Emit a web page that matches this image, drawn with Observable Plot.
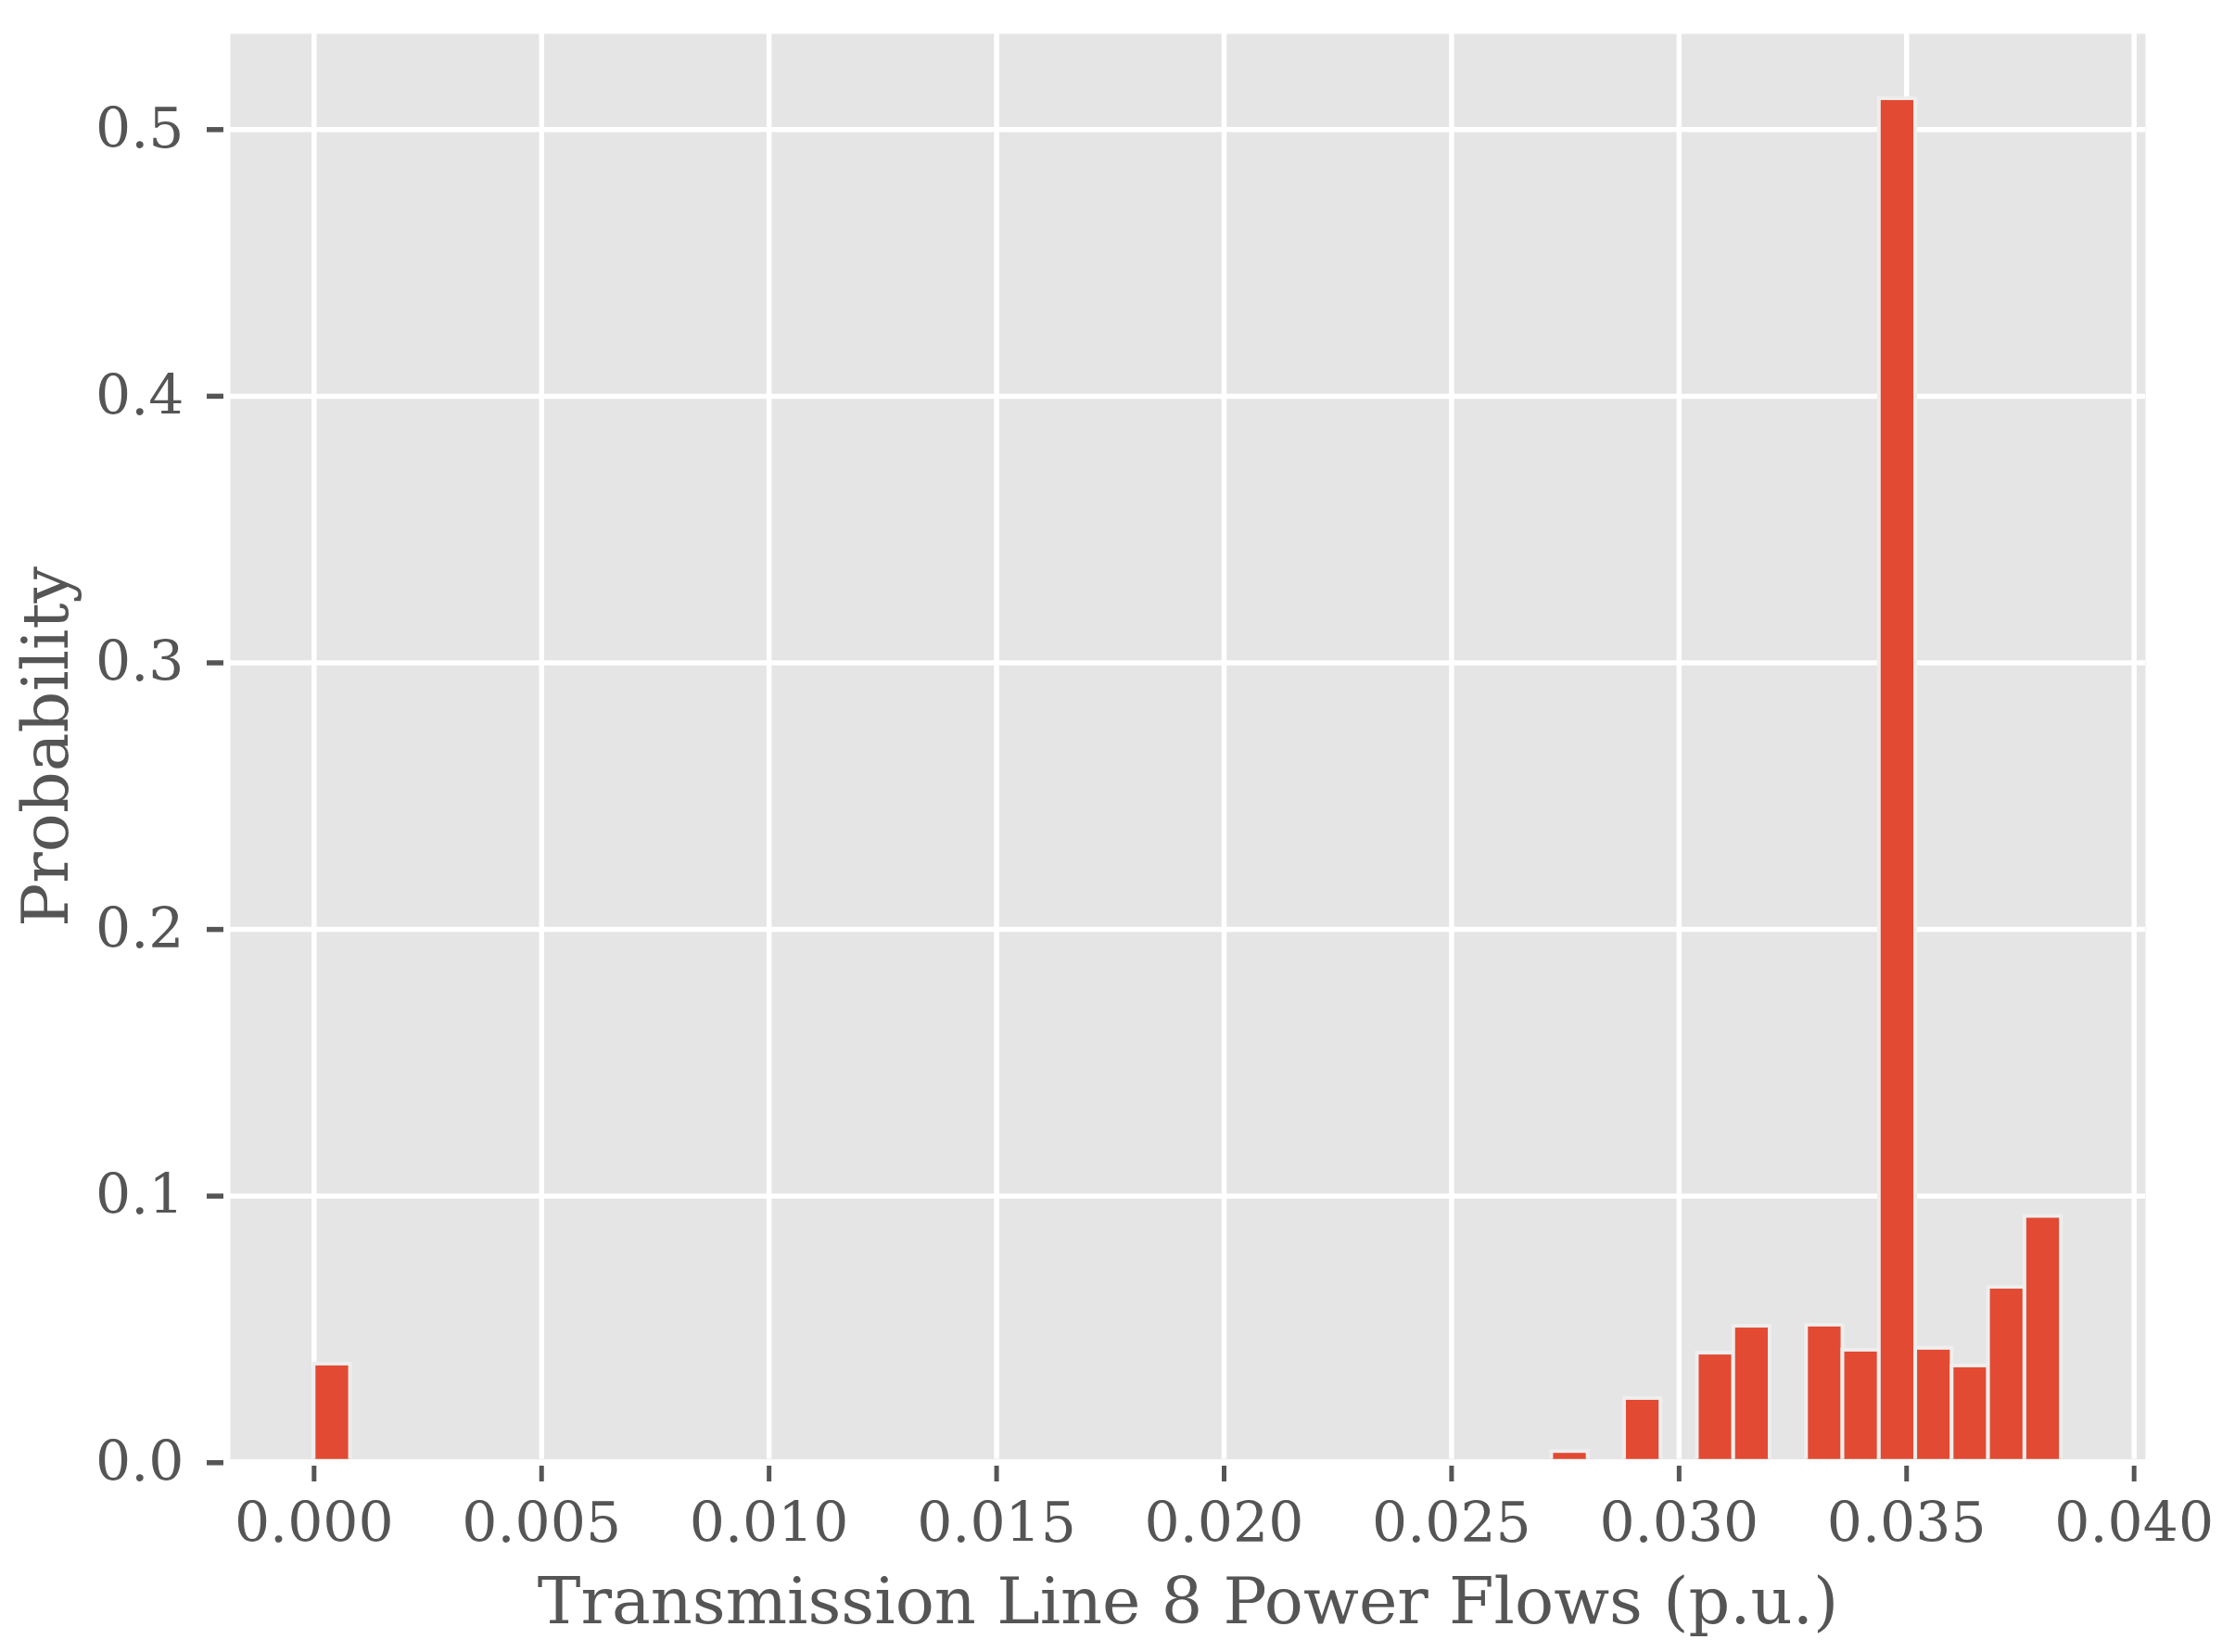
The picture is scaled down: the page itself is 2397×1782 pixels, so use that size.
<!DOCTYPE html>
<html>
<head>
<meta charset="utf-8">
<script src="https://cdn.jsdelivr.net/npm/d3@7"></script>
<script src="https://cdn.jsdelivr.net/npm/@observablehq/plot@0.6"></script>
<style>
html, body { margin: 0; padding: 0; background: #ffffff; }
#chart svg { display: block; }
</style>
</head>
<body>
<div id="chart"></div>
<script>
// Histogram bins (p.u.) and their probabilities
const binStart = [0.0000, 0.0272, 0.0288, 0.0304, 0.0312, 0.0328, 0.0336, 0.0344, 0.0352, 0.0360, 0.0368, 0.0376];
const binEnd   = [0.0008, 0.0280, 0.0296, 0.0312, 0.0320, 0.0336, 0.0344, 0.0352, 0.0360, 0.0368, 0.0376, 0.0384];
const probability = [0.0370, 0.0042, 0.0241, 0.0411, 0.0512, 0.0516, 0.0422, 0.5116, 0.0429, 0.0363, 0.0658, 0.0924];

const xTicks = [0.000, 0.005, 0.010, 0.015, 0.020, 0.025, 0.030, 0.035, 0.040];
const yTicks = [0.0, 0.1, 0.2, 0.3, 0.4, 0.5];

const xLabel = "Transmission Line 8 Power Flows (p.u.)";
const yLabel = "Probability";

const bins = binStart.map((x1, i) => ({x1, x2: binEnd[i], base: 0, p: probability[i]}));

const chart = Plot.plot({
  width: 2397,
  height: 1782,
  marginTop: 36,
  marginBottom: 208.3,
  marginLeft: 248,
  marginRight: 83,
  style: {fontFamily: "'DejaVu Serif', serif", color: "#555555", background: "#ffffff"},
  x: {type: "linear", domain: [-0.00184, 0.040251]},
  y: {type: "linear", domain: [0.00125, 0.53592]},
  marks: [
    Plot.frame({fill: "#E5E5E5", stroke: "none"}),
    Plot.gridX(xTicks, {stroke: "#ffffff", strokeOpacity: 1, strokeWidth: 5.5, clip: true}),
    Plot.gridY(yTicks, {stroke: "#ffffff", strokeOpacity: 1, strokeWidth: 5.5, clip: true}),
    Plot.rectY(bins, {x1: "x1", x2: "x2", y1: "base", y2: "p", fill: "#E24A33", stroke: "#EEEEEE", strokeWidth: 4, clip: true}),
    Plot.axisX(xTicks, {tickFormat: d3.format(".3f"), tickSize: 17, dy: 7.3, tickPadding: 22, fontSize: 60, strokeWidth: 5, label: null}),
    Plot.axisY(yTicks, {tickFormat: d3.format(".1f"), tickSize: 18, dx: -7, tickPadding: 25, fontSize: 60, strokeWidth: 5.5, label: null}),
    Plot.text([xLabel], {frameAnchor: "bottom", lineAnchor: "bottom", textAnchor: "middle", dy: 176.3, fontSize: 70, fill: "#555555"}),
    Plot.text([yLabel], {frameAnchor: "left", rotate: -90, textAnchor: "middle", lineAnchor: "bottom", dx: -176, fontSize: 70, fill: "#555555"})
  ]
});

document.getElementById("chart").appendChild(chart);
</script>
</body>
</html>
